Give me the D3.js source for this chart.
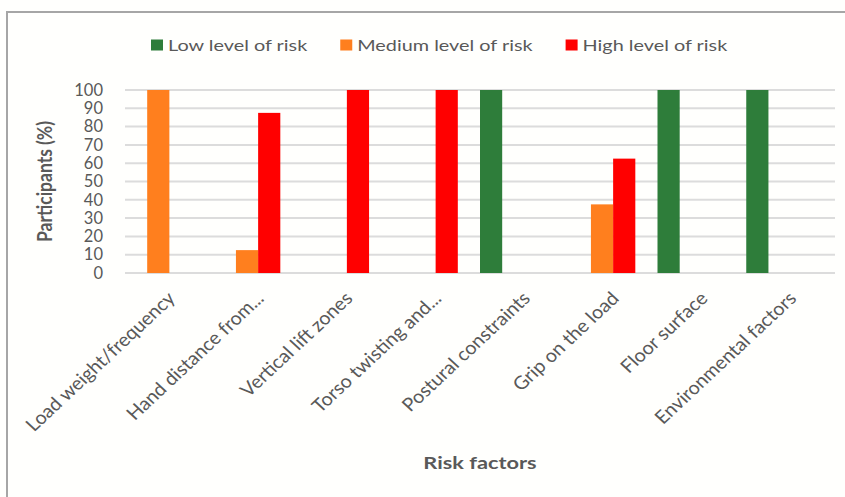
<!DOCTYPE html>
<html>
<head>
<meta charset="utf-8">
<script src="https://cdn.jsdelivr.net/npm/d3@7"></script>
<style>
  html, body { margin: 0; padding: 0; background: #fffffd; }
  svg { display: block; }
  text { font-family: Lato, "Open Sans", sans-serif; fill: #595959; }
</style>
</head>
<body>
<svg id="chart" width="845" height="497"></svg>
<script>
// Risk factors assessed and share of participants per risk level
const categories = [
  "Load weight/frequency",
  "Hand distance from...",
  "Vertical lift zones",
  "Torso twisting and...",
  "Postural constraints",
  "Grip on the load",
  "Floor surface",
  "Environmental factors"
];
const seriesNames = ["Low level of risk", "Medium level of risk", "High level of risk"];
const lowRisk    = [0, 0, 0, 0, 100, 0, 100, 100];
const mediumRisk = [100, 12.5, 0, 0, 0, 37.5, 0, 0];
const highRisk   = [0, 87.5, 100, 100, 0, 62.5, 0, 0];
const yTicks = [0, 10, 20, 30, 40, 50, 60, 70, 80, 90, 100];
const colors = ["#2e7d3a", "#ff7f1e", "#ff0000"];

const seriesValues = [lowRisk, mediumRisk, highRisk];

const svg = d3.select("#chart");
const W = 845, H = 497;

// outer frame
svg.append("rect")
  .attr("x", 0).attr("y", 0).attr("width", W).attr("height", H)
  .attr("fill", "#fffffd");
svg.append("path")
  .attr("d", `M7,${H} V12 H${W}`)
  .attr("fill", "none")
  .attr("stroke", "#a6a6a6")
  .attr("stroke-width", 2);

const plot = { left: 125, right: 835, top: 90, bottom: 273 };

const x0 = d3.scaleBand()
  .domain(categories)
  .range([plot.left, plot.right])
  .paddingInner(0).paddingOuter(0);

const x1 = d3.scaleBand()
  .domain(seriesNames)
  .range([0, x0.bandwidth() * 0.75]);

const y = d3.scaleLinear()
  .domain([0, 100])
  .range([plot.bottom, plot.top]);

// gridlines
svg.append("g")
  .selectAll("line")
  .data(yTicks)
  .join("line")
  .attr("x1", plot.left).attr("x2", plot.right)
  .attr("y1", d => y(d)).attr("y2", d => y(d))
  .attr("stroke", "#dcdcdc")
  .attr("stroke-width", 2);

// y axis labels
const yAxis = d3.axisLeft(y).tickValues(yTicks).tickSize(0).tickPadding(0);
const yg = svg.append("g")
  .attr("transform", `translate(${plot.left - 22},0)`)
  .call(yAxis);
yg.select(".domain").remove();
yg.selectAll("text")
  .attr("font-family", "Lato, 'Open Sans', sans-serif")
  .attr("font-size", 16.5)
  .attr("fill", "#595959");

// bars
const rows = categories.map((c, i) => ({
  category: c,
  values: seriesNames.map((s, j) => ({ series: s, value: seriesValues[j][i], color: colors[j] }))
}));

svg.append("g")
  .selectAll("g")
  .data(rows)
  .join("g")
  .attr("transform", d => `translate(${x0(d.category)},0)`)
  .selectAll("rect")
  .data(d => d.values.filter(v => v.value > 0))
  .join("rect")
  .attr("x", d => x1(d.series))
  .attr("width", x1.bandwidth())
  .attr("y", d => y(d.value))
  .attr("height", d => y(0) - y(d.value))
  .attr("fill", d => d.color);

// x axis category labels, rotated and slightly widened
const xAxis = d3.axisBottom(x0).tickSize(0).tickPadding(0);
const xg = svg.append("g")
  .attr("transform", `translate(0,${plot.bottom})`)
  .call(xAxis);
xg.select(".domain").remove();
xg.selectAll("text")
  .attr("font-family", "Lato, 'Open Sans', sans-serif")
  .attr("font-size", 18.5)
  .attr("fill", "#595959")
  .attr("text-anchor", "end")
  .attr("dy", "0.35em")
  .attr("transform", "translate(2,22) scale(1.07,1) rotate(-45)");

// axis titles
svg.append("text")
  .attr("transform", `translate(52,${(plot.top + plot.bottom) / 2}) scale(1.15,1) rotate(-90)`)
  .attr("text-anchor", "middle")
  .attr("font-size", 17.5)
  .attr("font-weight", "bold")
  .attr("fill", "#262626")
  .text("Participants (%)");

svg.append("text")
  .attr("transform", `translate(${(plot.left + plot.right) / 2},469) scale(1.28,1)`)
  .attr("text-anchor", "middle")
  .attr("font-size", 17)
  .attr("font-weight", "bold")
  .attr("fill", "#262626")
  .text("Risk factors");

// legend
const sx = 1.24;
const legend = svg.append("g").attr("transform", "translate(151,45)");
let lx = 0;
seriesNames.forEach((name, j) => {
  legend.append("rect")
    .attr("x", lx).attr("y", -5.5)
    .attr("width", 12).attr("height", 11)
    .attr("fill", colors[j]);
  const t = legend.append("text")
    .attr("transform", `translate(${lx + 17},0) scale(${sx},1)`)
    .attr("dy", "0.35em")
    .attr("font-size", 16)
    .attr("fill", "#404040")
    .text(name);
  lx += 17 + t.node().getComputedTextLength() * sx + 33;
});
</script>
</body>
</html>
